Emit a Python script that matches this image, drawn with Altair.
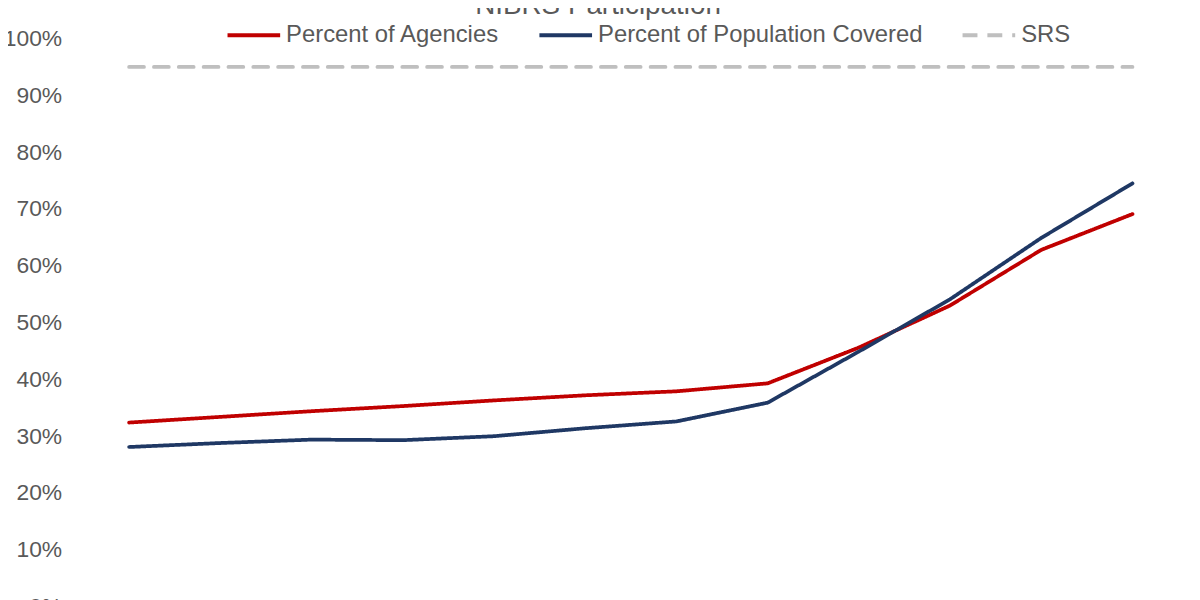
import altair as alt
import pandas as pd

# ---- data ----
years = [2011, 2012, 2013, 2014, 2015, 2016, 2017, 2018, 2019, 2020, 2021, 2022]
agencies_pct = [32.4, 33.4, 34.4, 35.3, 36.3, 37.2, 37.9, 39.3, 45.6, 53.0, 62.8, 69.1]
population_pct = [28.1, 28.8, 29.4, 29.3, 30.0, 31.4, 32.6, 35.9, 44.9, 54.1, 64.9, 74.5]
srs_pct = [95, 95, 95, 95, 95, 95, 95, 95, 95, 95, 95, 95]

series_names = ["Percent of Agencies", "Percent of Population Covered", "SRS"]
series_colors = ["#C00000", "#1F3864", "#BFBFBF"]
series_dashes = [[1, 0], [1, 0], [15, 10]]
y_ticks = [0, 0.1, 0.2, 0.3, 0.4, 0.5, 0.6, 0.7, 0.8, 0.9, 1.0]

rows = []
for name, vals in zip(series_names, [agencies_pct, population_pct, srs_pct]):
    for yr, v in zip(years, vals):
        rows.append({"Year": yr, "Series": name, "Value": v / 100.0})
df = pd.DataFrame(rows)

FONT = "Liberation Sans"
TXT = "#595959"

chart = alt.Chart(df).mark_line(strokeWidth=3.75, strokeCap="round").encode(
    x=alt.X("Year:O",
            scale=alt.Scale(type="point", padding=0.5),
            axis=alt.Axis(title=None, labelAngle=0, ticks=False, domainColor="#D9D9D9",
                          labelFontSize=23, labelColor=TXT, labelPadding=8)),
    y=alt.Y("Value:Q",
            scale=alt.Scale(domain=[0, 1]),
            axis=alt.Axis(title=None, format=".0%", values=y_ticks, domain=False,
                          ticks=False, grid=False, labelFontSize=23, labelColor=TXT,
                          labelPadding=22)),
    color=alt.Color("Series:N", scale=alt.Scale(domain=series_names, range=series_colors),
                    legend=alt.Legend(title=None)),
    strokeDash=alt.StrokeDash("Series:N", scale=alt.Scale(domain=series_names, range=series_dashes),
                              legend=alt.Legend(title=None)),
).properties(
    width=1102,
    height=572,
    title=alt.Title("NIBRS Participation", fontSize=28, fontWeight="normal", color=TXT,
                    anchor="middle", dx=-33, offset=0, dy=41, baseline="bottom", font=FONT),
    autosize=alt.AutoSizeParams(type="none"),
    padding={"left": 76, "top": 28.5, "right": 14, "bottom": 50},
).configure(
    font=FONT,
).configure_view(
    stroke=None,
).configure_legend(
    orient="none",
    legendX=143,
    legendY=-32,
    direction="horizontal",
    symbolType="stroke",
    symbolSize=2809,
    symbolStrokeWidth=4,
    labelFontSize=24,
    labelColor=TXT,
    labelFont=FONT,
    labelOffset=4,
    labelLimit=0,
    columnPadding=32,
    padding=0,
)

chart.save("out.html", embed_options={"renderer": "svg", "actions": False})
